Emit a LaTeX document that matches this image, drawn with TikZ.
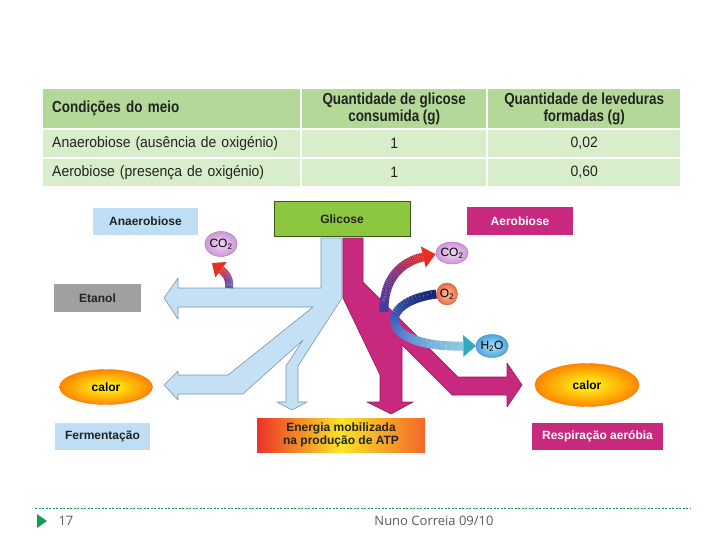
\documentclass[tikz,border=0pt]{standalone}
\usepackage{fontspec}
\setmainfont{Liberation Sans}
\newfontfamily\tabfont{Liberation Sans}[FakeStretch=0.93]
\newfontfamily\tabheadfont{Liberation Sans}[FakeStretch=0.84]
\newfontfamily\footfont{Open Sans}
\usetikzlibrary{calc,shapes.geometric}

\definecolor{tabhead}{RGB}{180,216,152}
\definecolor{tabrow}{RGB}{216,237,201}
\definecolor{tabtext}{RGB}{35,35,35}
\definecolor{anaeroblue}{RGB}{196,224,244}
\definecolor{anaeroline}{RGB}{120,150,175}
\definecolor{boxblue}{RGB}{190,222,245}
\definecolor{aeromag}{RGB}{200,40,125}
\definecolor{aeroline}{RGB}{150,25,90}
\definecolor{glicgreen}{RGB}{141,198,63}
\definecolor{glicline}{RGB}{60,90,30}
\definecolor{etanolgray}{RGB}{160,160,160}
\definecolor{footgreen}{RGB}{20,155,80}
\definecolor{footgray}{RGB}{90,90,90}
\definecolor{gaBlue}{RGB}{60,60,165}
\definecolor{gaPurple}{RGB}{130,50,125}
\definecolor{gaRed}{RGB}{232,45,35}
\definecolor{gaNavy}{RGB}{25,35,110}
\definecolor{gaMid}{RGB}{65,110,200}
\definecolor{gaLight}{RGB}{145,205,228}
\definecolor{gaTeal}{RGB}{50,170,190}
\definecolor{atpRed}{RGB}{236,50,40}
\definecolor{atpYellow}{RGB}{252,228,40}
\definecolor{atpOrange}{RGB}{242,105,40}
\definecolor{co2in}{RGB}{238,215,242}
\definecolor{co2out}{RGB}{205,150,215}
\definecolor{o2in}{RGB}{250,190,160}
\definecolor{o2out}{RGB}{232,110,70}
\definecolor{h2oin}{RGB}{175,222,246}
\definecolor{h2oout}{RGB}{80,165,225}

\newcommand{\diagfont}{\fontsize{12}{14}\selectfont\bfseries}

% curved arrow with colour running along it
\newcommand{\gradarrow}[9]{%
  \foreach \k in {0,...,40}
    \path #1 .. controls #2 and #3 .. #4 coordinate[pos=\k/40] (ga\k);
  \foreach \k [evaluate=\k as \m using int(\k+1)] in {0,...,39} {
    \ifnum\k<20
      \pgfmathtruncatemacro\mixval{5*\k}
      \draw[line width=#9pt, #6!\mixval!#5] (ga\k) -- (ga\m);
    \else
      \pgfmathtruncatemacro\mixval{5*(\k-20)}
      \draw[line width=#9pt, #7!\mixval!#6] (ga\k) -- (ga\m);
    \fi
  }
  \fill[#8] ($(ga40)!1.2*#9pt!90:(ga39)$) -- ($(ga40)!-1.4*#9pt!(ga39)$)
    -- ($(ga40)!1.2*#9pt!-90:(ga39)$) -- cycle;
}

\tikzset{
    head cell/.style = {
        fill = tabhead,
        text = tabtext,
        minimum height = 39pt,
        inner sep = 0pt,
        anchor = north west,
        align = center,
        font = \tabheadfont\bfseries\fontsize{16}{17}\selectfont,
        },
    body cell/.style = {
        fill = tabrow,
        text = tabtext,
        minimum height = 27pt,
        inner sep = 0pt,
        anchor = north west,
        font = \tabfont\fontsize{15}{17}\selectfont,
        },
    first col/.style = {
        text width = 239pt,
        inner xsep = 9pt,
        align = left,
        },
    label box/.style = {
        minimum height = 27pt,
        inner sep = 0pt,
        font = \diagfont,
        },
    mag box/.style = {
        label box,
        fill = aeromag,
        text = white,
        },
    blue box/.style = {
        label box,
        fill = boxblue,
        text = tabtext,
        },
    heat/.style = {
        ellipse,
        draw = orange!90!red,
        inner color = yellow!90!white,
        outer color = orange!95!yellow,
        font = \diagfont,
        },
    gas/.style = {
        ellipse,
        inner sep = 0pt,
        font = \fontsize{12}{14}\selectfont,
        },
    anaero flow/.style = {
        fill = anaeroblue,
        draw = anaeroline,
        line width = 0.6pt,
        line join = round,
        },
    aero flow/.style = {
        fill = aeromag,
        draw = aeroline,
        line width = 0.6pt,
        line join = round,
        },
}

\begin{document}
\begin{tikzpicture}[x=1pt, y=-1pt]
\useasboundingbox (0,0) rectangle (728,546);

% table
\node[head cell, first col] (hcond) at (43,89) {Condições do meio};
\node[head cell, minimum width=184pt] (hglic) at (302,89) {Quantidade de glicose\\consumida (g)};
\node[head cell, minimum width=192pt] (hlev) at (488,89) {Quantidade de leveduras\\formadas (g)};
\node[body cell, first col] (anaero) at (43,130) {Anaerobiose (ausência de oxigénio)};
\node[body cell, minimum width=184pt] (anaeroglic) at (302,130) {1};
\node[body cell, minimum width=192pt] (anaerolev) at (488,130) {0,02};
\node[body cell, first col] (aero) at (43,159) {Aerobiose (presença de oxigénio)};
\node[body cell, minimum width=184pt] (aeroglic) at (302,159) {1};
\node[body cell, minimum width=192pt] (aerolev) at (488,159) {0,60};

% flows
\draw[anaero flow] (321,238) -- (342,238) -- (342,298) -- (298,366) -- (298,402)
    -- (307,402) -- (292,410) -- (277,402) -- (286,402) -- (286,366) -- (303,340)
    -- (243,394) -- (178,394) -- (178,400) -- (164,385) -- (178,371) -- (178,375)
    -- (228,375) -- (313,307) -- (178,307) -- (178,319) -- (164,298) -- (178,278)
    -- (178,288) -- (321,288) -- cycle;
\draw[aero flow] (343,238) -- (363,238) -- (363,282) -- (458,377) -- (507,377)
    -- (507,363) -- (522,385) -- (507,407) -- (507,395) -- (452,395) -- (402,345)
    -- (402,402) -- (413,402) -- (391,414) -- (367,402) -- (380,402) -- (380,375)
    -- (343,298) -- cycle;

% boxes
\node[blue box, minimum width=105pt] (anaerobiose) at (145.5,221) {Anaerobiose};
\node[label box, fill=glicgreen, draw=glicline, line width=0.8pt, minimum width=136pt,
    minimum height=35pt, text=tabtext] (glicose) at (342,219) {Glicose};
\node[mag box, minimum width=106pt, minimum height=28pt] (aerobiose) at (520,221) {Aerobiose};
\node[label box, fill=etanolgray, minimum width=87pt, minimum height=28pt,
    text=tabtext] (etanol) at (97.5,298) {Etanol};
\node[blue box, minimum width=95pt] (fermentacao) at (102.5,436.5) {Fermentação};
\node[label box, left color=atpRed, right color=atpOrange, middle color=atpYellow,
    minimum width=168pt, minimum height=34pt,
    align=center, text=tabtext, font=\fontsize{12}{13}\selectfont\bfseries]
    (energia) at (341,435) {Energia mobilizada\\na produção de ATP};
\node[mag box, minimum width=131pt] (respiracao) at (597.5,436.5) {Respiração aeróbia};
\node[heat, minimum width=93pt, minimum height=35pt] (calorA) at (106,387) {calor};
\node[heat, minimum width=104pt, minimum height=43pt] (calorB) at (587,385) {calor};

% gas arrows
\node[gas, minimum width=28pt, minimum height=25pt] (co2A) at (221,244) {};
\node[gas, minimum width=31pt, minimum height=22pt] (co2B) at (452,253) {};
\node[gas, minimum width=21pt, minimum height=22pt] (o2) at (447,294) {};
\node[gas, minimum width=31pt, minimum height=23pt] (h2o) at (492,346) {};

\gradarrow{(229,288)}{(230,280)}{(227,274)}{($(co2A.south)+(0,13)$)}{gaBlue}{gaPurple}{gaRed}{gaRed}{8}
\gradarrow{(384,312)}{(383,280)}{(400,262)}{($(co2B.west)+(-13,4)$)}{gaBlue}{gaPurple}{gaRed}{gaRed}{9}
\gradarrow{(o2.west)}{(375,302)}{(378,348)}{($(h2o.west)+(-13,0)$)}{gaNavy}{gaMid}{gaLight}{gaTeal}{9}

\node[gas, draw=co2out!80!black, inner color=co2in, outer color=co2out, minimum width=28pt,
    minimum height=25pt] at (co2A) {CO\textsubscript{2}};
\node[gas, draw=co2out!80!black, inner color=co2in, outer color=co2out, minimum width=31pt,
    minimum height=22pt] at (co2B) {CO\textsubscript{2}};
\node[gas, draw=o2out!85!black, inner color=o2in, outer color=o2out, minimum width=21pt,
    minimum height=22pt] at (o2) {O\textsubscript{2}};
\node[gas, draw=h2oout!80!black, inner color=h2oin, outer color=h2oout, minimum width=31pt,
    minimum height=23pt] at (h2o) {H\textsubscript{2}O};

% footer
\coordinate (footL) at (35,508);
\coordinate (footR) at (690,508);
\draw[footgreen, line width=0.8pt, dash pattern=on 2pt off 1.5pt] (footL) -- (footR);
\fill[footgreen] (37,514) -- (47,521) -- (37,528) -- cycle;
\node[anchor=west, text=footgray, font=\footfont\fontsize{13}{15}\selectfont] (page) at (55,521) {17};
\node[text=footgray, font=\footfont\fontsize{13}{15}\selectfont] (author) at (434,521) {Nuno Correia 09/10};
\end{tikzpicture}
\end{document}
